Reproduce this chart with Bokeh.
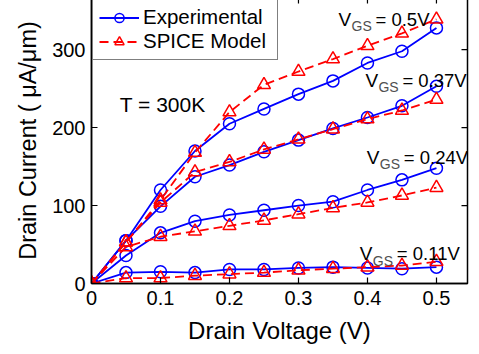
import math
from bokeh.plotting import figure
from bokeh.models import Range1d, FixedTicker, Legend, LegendItem, Label
from bokeh.embed import file_html
from bokeh.resources import INLINE

# ---- data ----
vds = [0.0, 0.05, 0.1, 0.15, 0.2, 0.25, 0.3, 0.35, 0.4, 0.45, 0.5]

exp_050 = [0, 55, 120, 170, 205, 224, 243, 260, 283, 298, 328]
spice_050 = [0, 53, 107, 168, 220, 255, 272, 288, 305, 321, 339]
exp_037 = [0, 55, 99, 137, 152, 169, 184, 199, 213, 228, 253]
spice_037 = [0, 53, 104, 143, 156, 172, 185, 198, 211, 222, 236]
exp_024 = [0, 36, 65, 80, 88, 94, 100, 105, 120, 133, 148]
spice_024 = [0, 47, 60, 67, 74, 81, 89, 97, 104, 113, 123]
exp_011 = [0, 14, 15, 14, 18, 18, 20, 21, 20, 19, 21]
spice_011 = [0, 7, 7, 10, 12, 14, 17, 19, 21, 23, 28]

x_ticks = [0, 0.1, 0.2, 0.3, 0.4, 0.5]
x_tick_labels = ["0", "0.1", "0.2", "0.3", "0.4", "0.5"]
y_ticks = [0, 100, 200, 300]
y_tick_labels = ["0", "100", "200", "300"]

vgs_values = ["0.5V", "0.37V", "0.24V", "0.11V"]
series_names = ["Experimental", "SPICE Model"]

FONT = "Liberation Sans"
BLUE = "#0000FF"
RED = "#FF0000"
X_END = 0.545
Y_END = 367

p = figure(width=471, height=349, output_backend="svg", toolbar_location=None,
           x_range=Range1d(0, X_END), y_range=Range1d(0, Y_END),
           min_border_left=91, min_border_right=4, min_border_top=0,
           min_border_bottom=63)
p.margin = (-3, 0, 0, 0)
p.background_fill_color = "white"
p.border_fill_color = "white"
p.outline_line_color = "black"
p.outline_line_width = 1.5
p.xgrid.visible = False
p.ygrid.visible = False


def style_axis(ax, ticks, labels):
    ax.ticker = FixedTicker(ticks=ticks)
    ax.major_label_overrides = {t: l for t, l in zip(ticks, labels)}
    ax.major_tick_in = 6
    ax.major_tick_out = 0
    ax.minor_tick_line_color = None
    ax.major_tick_line_color = "black"
    ax.major_tick_line_width = 1.2
    ax.axis_line_color = "black"
    ax.axis_line_width = 1.5
    ax.major_label_text_font = FONT
    ax.major_label_text_color = "black"
    ax.major_label_text_font_size = "20px"
    ax.axis_label_text_font = FONT
    ax.axis_label_text_font_style = "normal"
    ax.axis_label_text_color = "black"


style_axis(p.xaxis[0], x_ticks, x_tick_labels)
style_axis(p.yaxis[0], y_ticks, y_tick_labels)
p.xaxis[0].major_label_standoff = 7
p.yaxis[0].major_label_standoff = 6
p.xaxis.axis_label = "Drain Voltage (V)"
p.yaxis.axis_label = "Drain Current ( \u03bcA/\u03bcm)"
p.xaxis[0].axis_label_text_font_size = "24px"
p.yaxis[0].axis_label_text_font_size = "23.5px"
p.xaxis[0].axis_label_standoff = 9
p.yaxis[0].axis_label_standoff = 8

# inward ticks on the top and right edges of the frame
p.ray(x=x_ticks, y=[Y_END] * len(x_ticks), length=6, length_units="screen",
      angle=-math.pi / 2, line_color="black", line_width=1.2)
p.ray(x=[X_END] * len(y_ticks), y=y_ticks, length=6, length_units="screen",
      angle=math.pi, line_color="black", line_width=1.2)

exp_series = [exp_050, exp_037, exp_024, exp_011]
spice_series = [spice_050, spice_037, spice_024, spice_011]

exp_r = []
for ys in exp_series:
    l = p.line(vds, ys, line_color=BLUE, line_width=1.8)
    s = p.scatter(vds, ys, marker="circle", size=12, line_color=BLUE,
                  line_width=1.5, fill_color="white", fill_alpha=0)
    exp_r.append((l, s))

spice_r = []
for ys in spice_series:
    l = p.line(vds, ys, line_color=RED, line_width=1.8, line_dash="9 5")
    s = p.scatter(vds, ys, marker="triangle", size=13, line_color=RED,
                  line_width=1.5, fill_color="white", fill_alpha=0)
    spice_r.append((l, s))

legend = Legend(items=[
    LegendItem(label=series_names[0], renderers=list(exp_r[0])),
    LegendItem(label=series_names[1], renderers=list(spice_r[0])),
], location="top_left")
legend.margin = 1
legend.padding = 6
legend.spacing = 0
legend.glyph_width = 40
legend.glyph_height = 23
legend.label_height = 23
legend.label_width = 128
legend.label_standoff = 4
legend.label_text_font = FONT
legend.label_text_font_size = "20.5px"
legend.label_text_color = "black"
legend.border_line_color = "black"
legend.border_line_width = 1.5
legend.background_fill_color = "white"
legend.background_fill_alpha = 1
p.add_layout(legend)

# V_GS annotations: (x of "V", baseline y) in data units
vgs_pos = [(0.358, 339), (0.397, 261), (0.399, 162), (0.389, 38)]
for (xv, yv), val in zip(vgs_pos, vgs_values):
    p.add_layout(Label(x=xv, y=yv, text="V", text_font=FONT,
                       text_font_size="19px", text_baseline="alphabetic",
                       text_color="black"))
    p.add_layout(Label(x=xv, y=yv, text="GS", text_font=FONT,
                       text_font_size="14px", text_baseline="alphabetic",
                       text_color="#505050", x_offset=13, y_offset=-7))
    p.add_layout(Label(x=xv, y=yv, text="= " + val, text_font=FONT,
                       text_font_size="18.5px", text_baseline="alphabetic",
                       text_color="black", x_offset=37))

p.add_layout(Label(x=0.041, y=230, text="T = 300K", text_font=FONT,
                   text_font_size="21px", text_baseline="alphabetic",
                   text_color="black"))

open("out.html", "w").write(file_html(p, INLINE))
